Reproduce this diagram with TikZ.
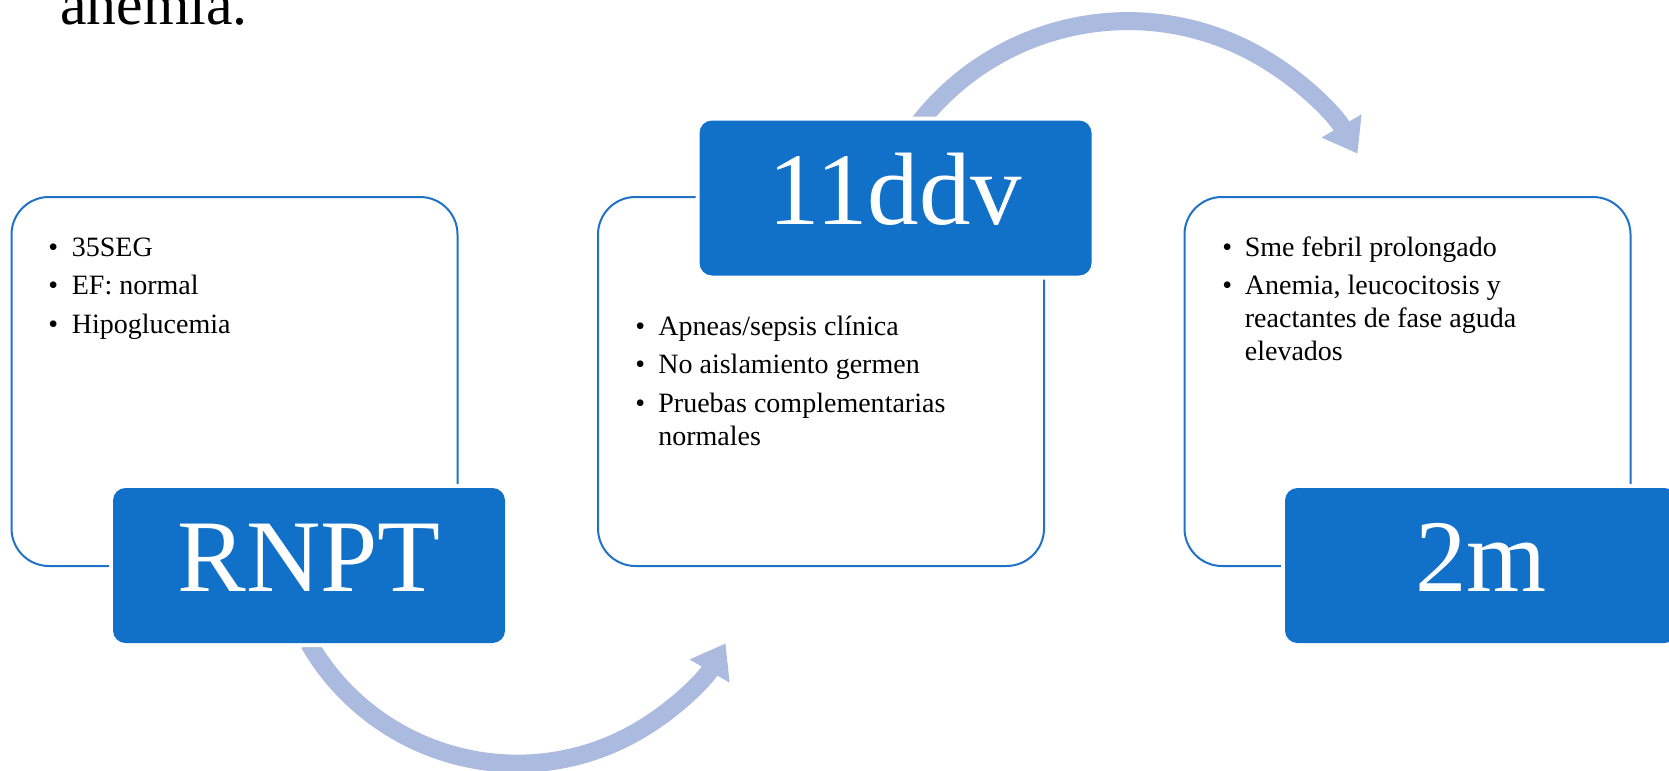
\documentclass[tikz,border=0pt]{standalone}
\usepackage{fontspec}
\setmainfont{Liberation Serif}
\usepackage{tikz}
\usetikzlibrary{arrows.meta,backgrounds}
\definecolor{boxBlue}{RGB}{17,112,199}
\definecolor{panelBlue}{RGB}{30,114,199}
\definecolor{arrowBlue}{RGB}{171,187,223}
\tikzset{
  panel/.style={draw=panelBlue,line width=0.04cm,rounded corners=0.75cm,fill=white,
                minimum width=8.92cm,minimum height=7.38cm},
  stamp/.style={fill=boxBlue,rounded corners=0.25cm,minimum width=7.84cm,minimum height=3.1cm,
                inner sep=0pt,text=white,text height=1.4cm,text depth=0.36cm,
                font=\fontsize{58.6pt}{64pt}\selectfont,
                preaction={draw=white,line width=0.16cm}},
  bullets/.style={anchor=base west,inner sep=0pt,font=\fontsize{15.94pt}{18.78pt}\selectfont},
  flow/.style={arrowBlue,line width=0.36cm,-{Triangle[width=0.88cm,length=0.64cm]}},
}

\begin{document}
\begin{tikzpicture}
  \useasboundingbox (0,0) rectangle (33.38,15.4);
  \clip (0,0) rectangle (33.38,15.4);
  \node[anchor=base west,inner sep=0pt,font=\fontsize{34pt}{40pt}\selectfont] (lead) at (1.2,14.9) {anemia.};
  % panels
  \node[panel] (p1) at (4.69,7.77) {};
  \node[panel] (p2) at (16.42,7.77) {};
  \node[panel] (p3) at (28.15,7.77) {};
  \node[stamp] (rnpt) at (6.18,4.09) {RNPT};
  \node[stamp] (ddv) at (17.91,11.44) {11ddv};
  \node[stamp] (mth) at (29.62,4.09) {2m};
  \begin{scope}[on background layer]
    \draw[flow] (rnpt.south) arc[start angle=210,end angle=330,radius=4.81cm];
    \draw[flow] ([yshift=-0.67cm,xshift=0.06cm]ddv.north) arc[start angle=150,end angle=30,radius=5.3cm];
  \end{scope}
  % lists
  \node[bullets] (l1) at (0.96,10.28) {\begin{tabular}[t]{@{}p{0.47cm}@{}l@{}}
    \textbullet & 35SEG\\[3.4pt]
    \textbullet & EF: normal\\[3.4pt]
    \textbullet & Hipoglucemia
  \end{tabular}};
  \node[bullets] (l2) at (12.7,8.7) {\begin{tabular}[t]{@{}p{0.46cm}@{}l@{}}
    \textbullet & Apneas/sepsis clínica\\[3.4pt]
    \textbullet & No aislamiento germen\\[3.4pt]
    \textbullet & Pruebas complementarias\\
                & normales
  \end{tabular}};
  \node[bullets] (l3) at (24.44,10.28) {\begin{tabular}[t]{@{}p{0.45cm}@{}l@{}}
    \textbullet & Sme febril prolongado\\[3.4pt]
    \textbullet & Anemia, leucocitosis y\\
                & reactantes de fase aguda\\
                & elevados
  \end{tabular}};
\end{tikzpicture}
\end{document}
